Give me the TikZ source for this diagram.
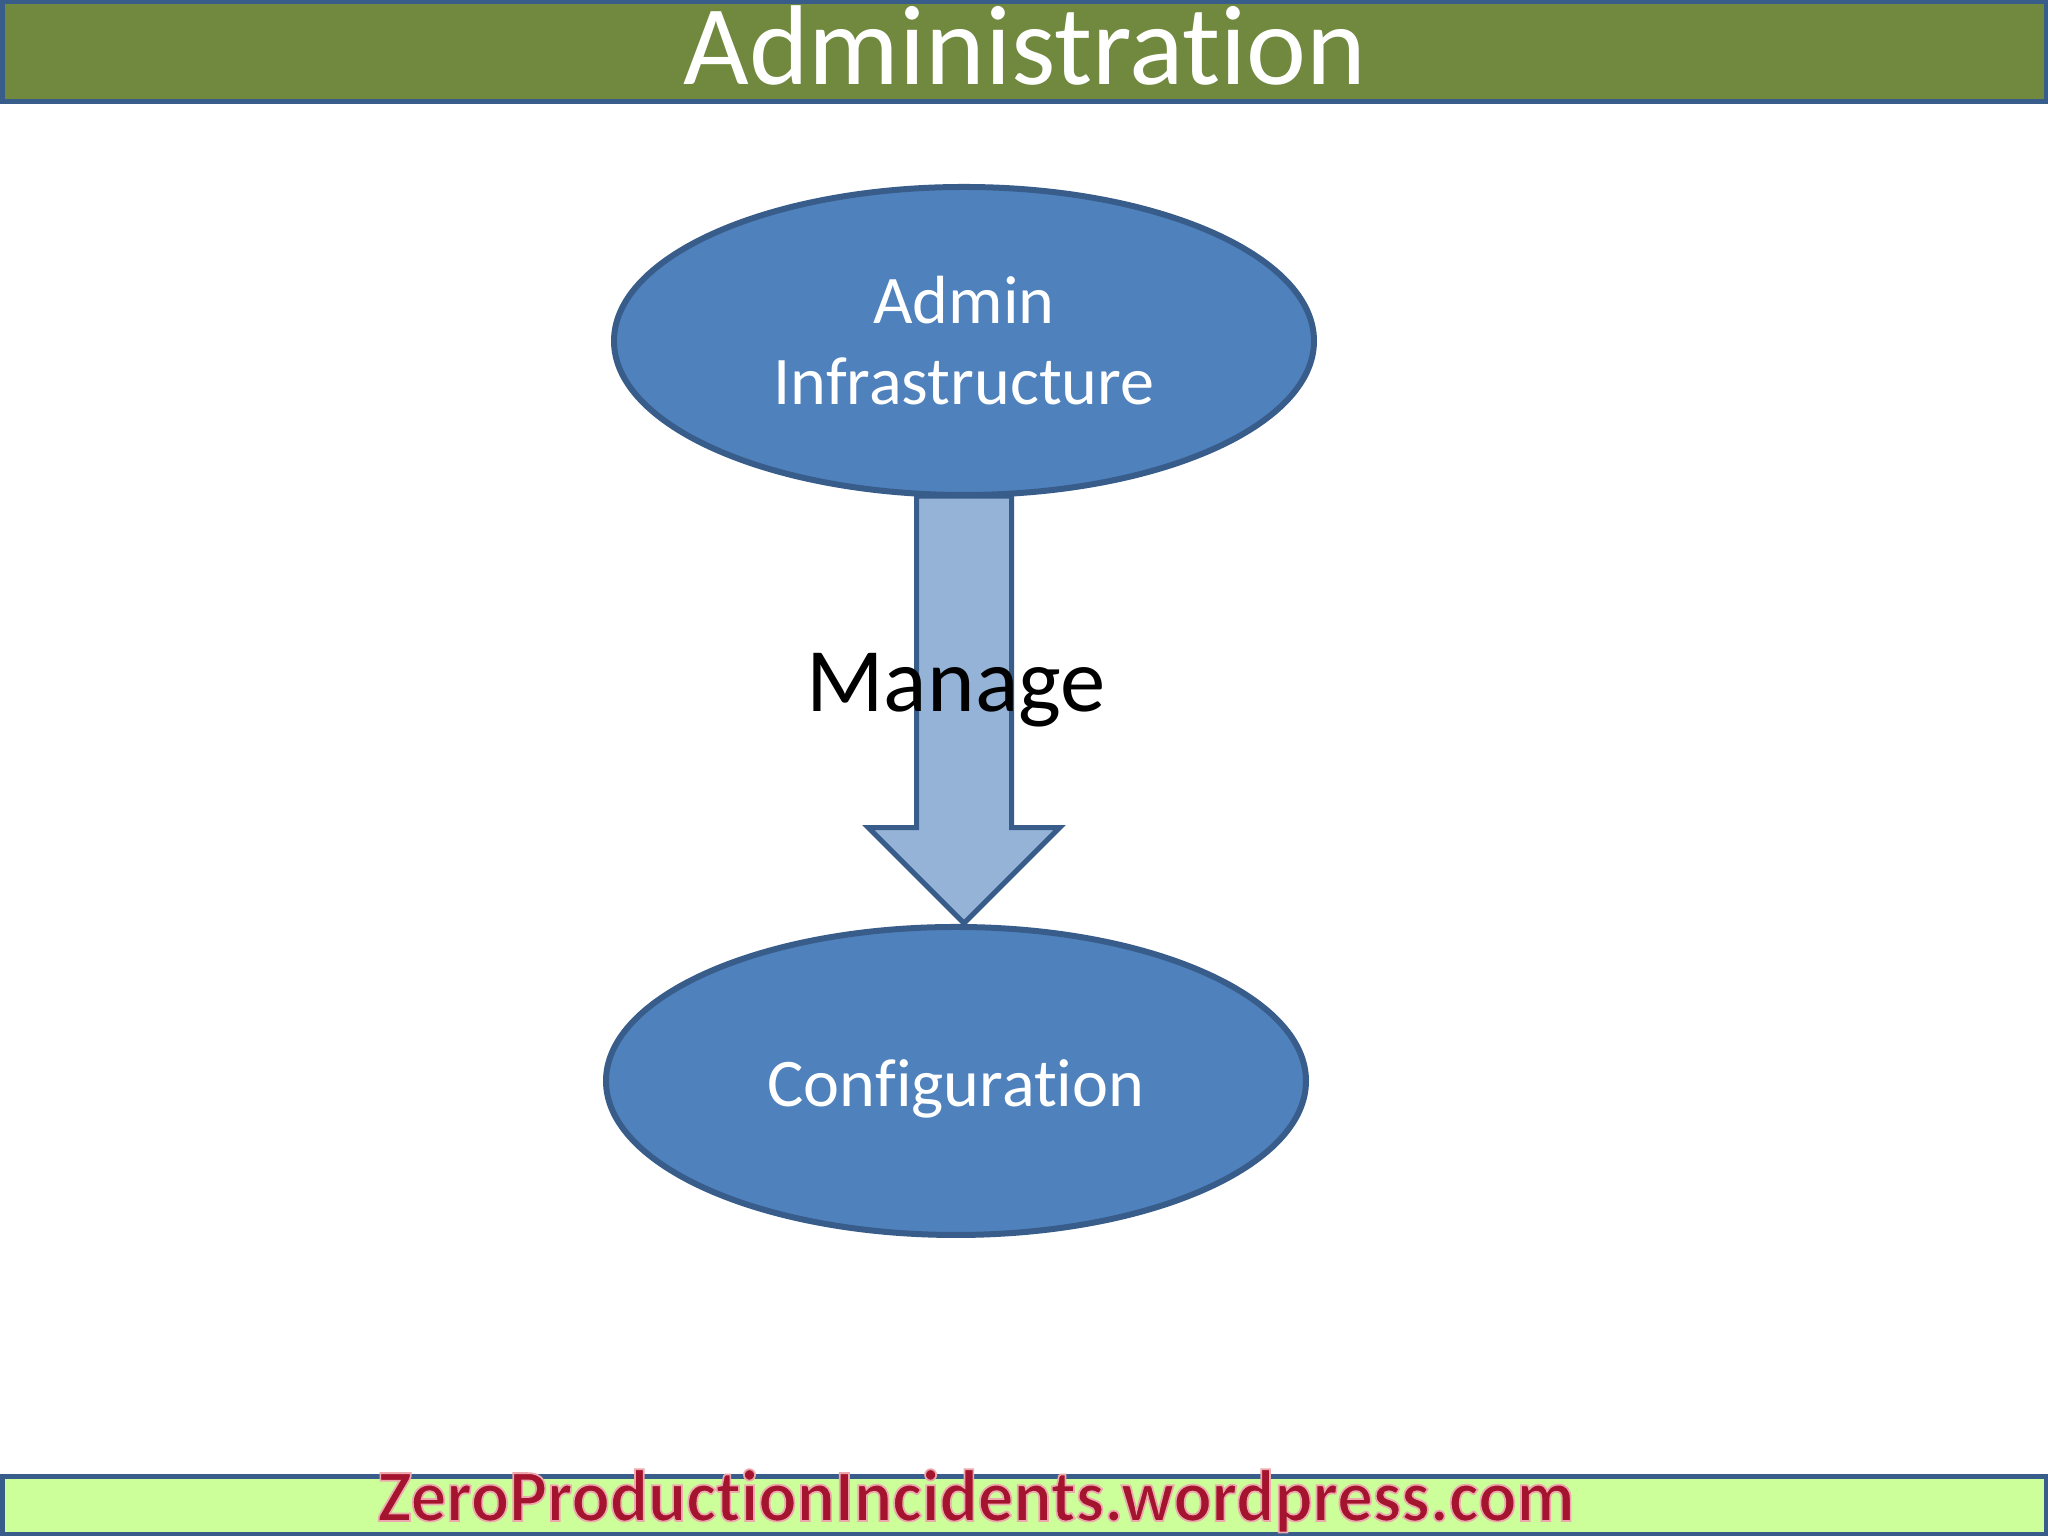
\documentclass[tikz,border=0pt]{standalone}
\usepackage{fontspec}
\setmainfont[Ligatures=NoCommon]{Carlito}
\definecolor{linecolor}{HTML}{385D8A}
\definecolor{ovalcolor}{HTML}{4F81BD}
\definecolor{arrowcolor}{HTML}{95B3D7}
\definecolor{titlecolor}{HTML}{71893F}
\definecolor{footercolor}{HTML}{CCFF99}
\definecolor{sitecolor}{HTML}{A5142E}
\usetikzlibrary{shapes,positioning}
\newcommand{\sitelabel}[1]{\special{pdf:code q 2 Tr 0.5 w 0.93 0.66 0.68 RG}#1\special{pdf:code Q}}
\tikzset{
	banner/.style={
		rectangle,
		line width=0.05cm,
		draw=linecolor,
		minimum width=20.44cm,
		inner sep=0pt
	},
	oval/.style={
		ellipse,
		line width=0.06cm,
		draw=linecolor,
		fill=ovalcolor,
		text=white,
		font=\fontsize{19.4}{23}\selectfont,
		align=center,
		minimum width=7.0cm,
		minimum height=3.08cm,
		inner sep=0pt
	},
	blockarrow/.style={
		single arrow,
		line width=0.05cm,
		draw=linecolor,
		fill=arrowcolor,
		shape border rotate=270,
		single arrow tip angle=90,
		single arrow head extend=0.48cm,
		minimum height=4.27cm,
		minimum width=1.86cm,
		inner xsep=0.45cm,
		inner ysep=0pt
	}
}
\begin{document}
\begin{tikzpicture}
		\useasboundingbox (0,0) rectangle (20.48,15.36);
		\fill[white] (0,0) rectangle (20.48,15.36);
		\node (title) [banner,fill=titlecolor,minimum height=1.0cm] at (10.24,14.84) {};
		\node (titletext) [text=white,font=\fontsize{32.3}{32.3}\selectfont] at (10.25,14.90) {Administration};
		\node (footer) [banner,fill=footercolor,minimum height=0.58cm] at (10.24,0.30) {};
		\node (sitetext) [anchor=base,inner sep=0pt,text=sitecolor,xscale=0.965,transform shape,font=\fontsize{21}{21}\bfseries\selectfont] at (9.76,0.15) {\sitelabel{ZeroProductionIncidents.wordpress.com}};
		\node (manage) [blockarrow] at (9.64,8.50) {};
		\node (admin) [oval] at (9.64,11.95) {Admin\\Infrastructure};
		\node (config) [oval,text height=0.66cm,text depth=0.14cm] at (9.56,4.55) {Configuration};
		\node (managetext) [font=\fontsize{25.8}{25.8}\selectfont] at (9.56,8.46) {Manage};
\end{tikzpicture}
\end{document}
